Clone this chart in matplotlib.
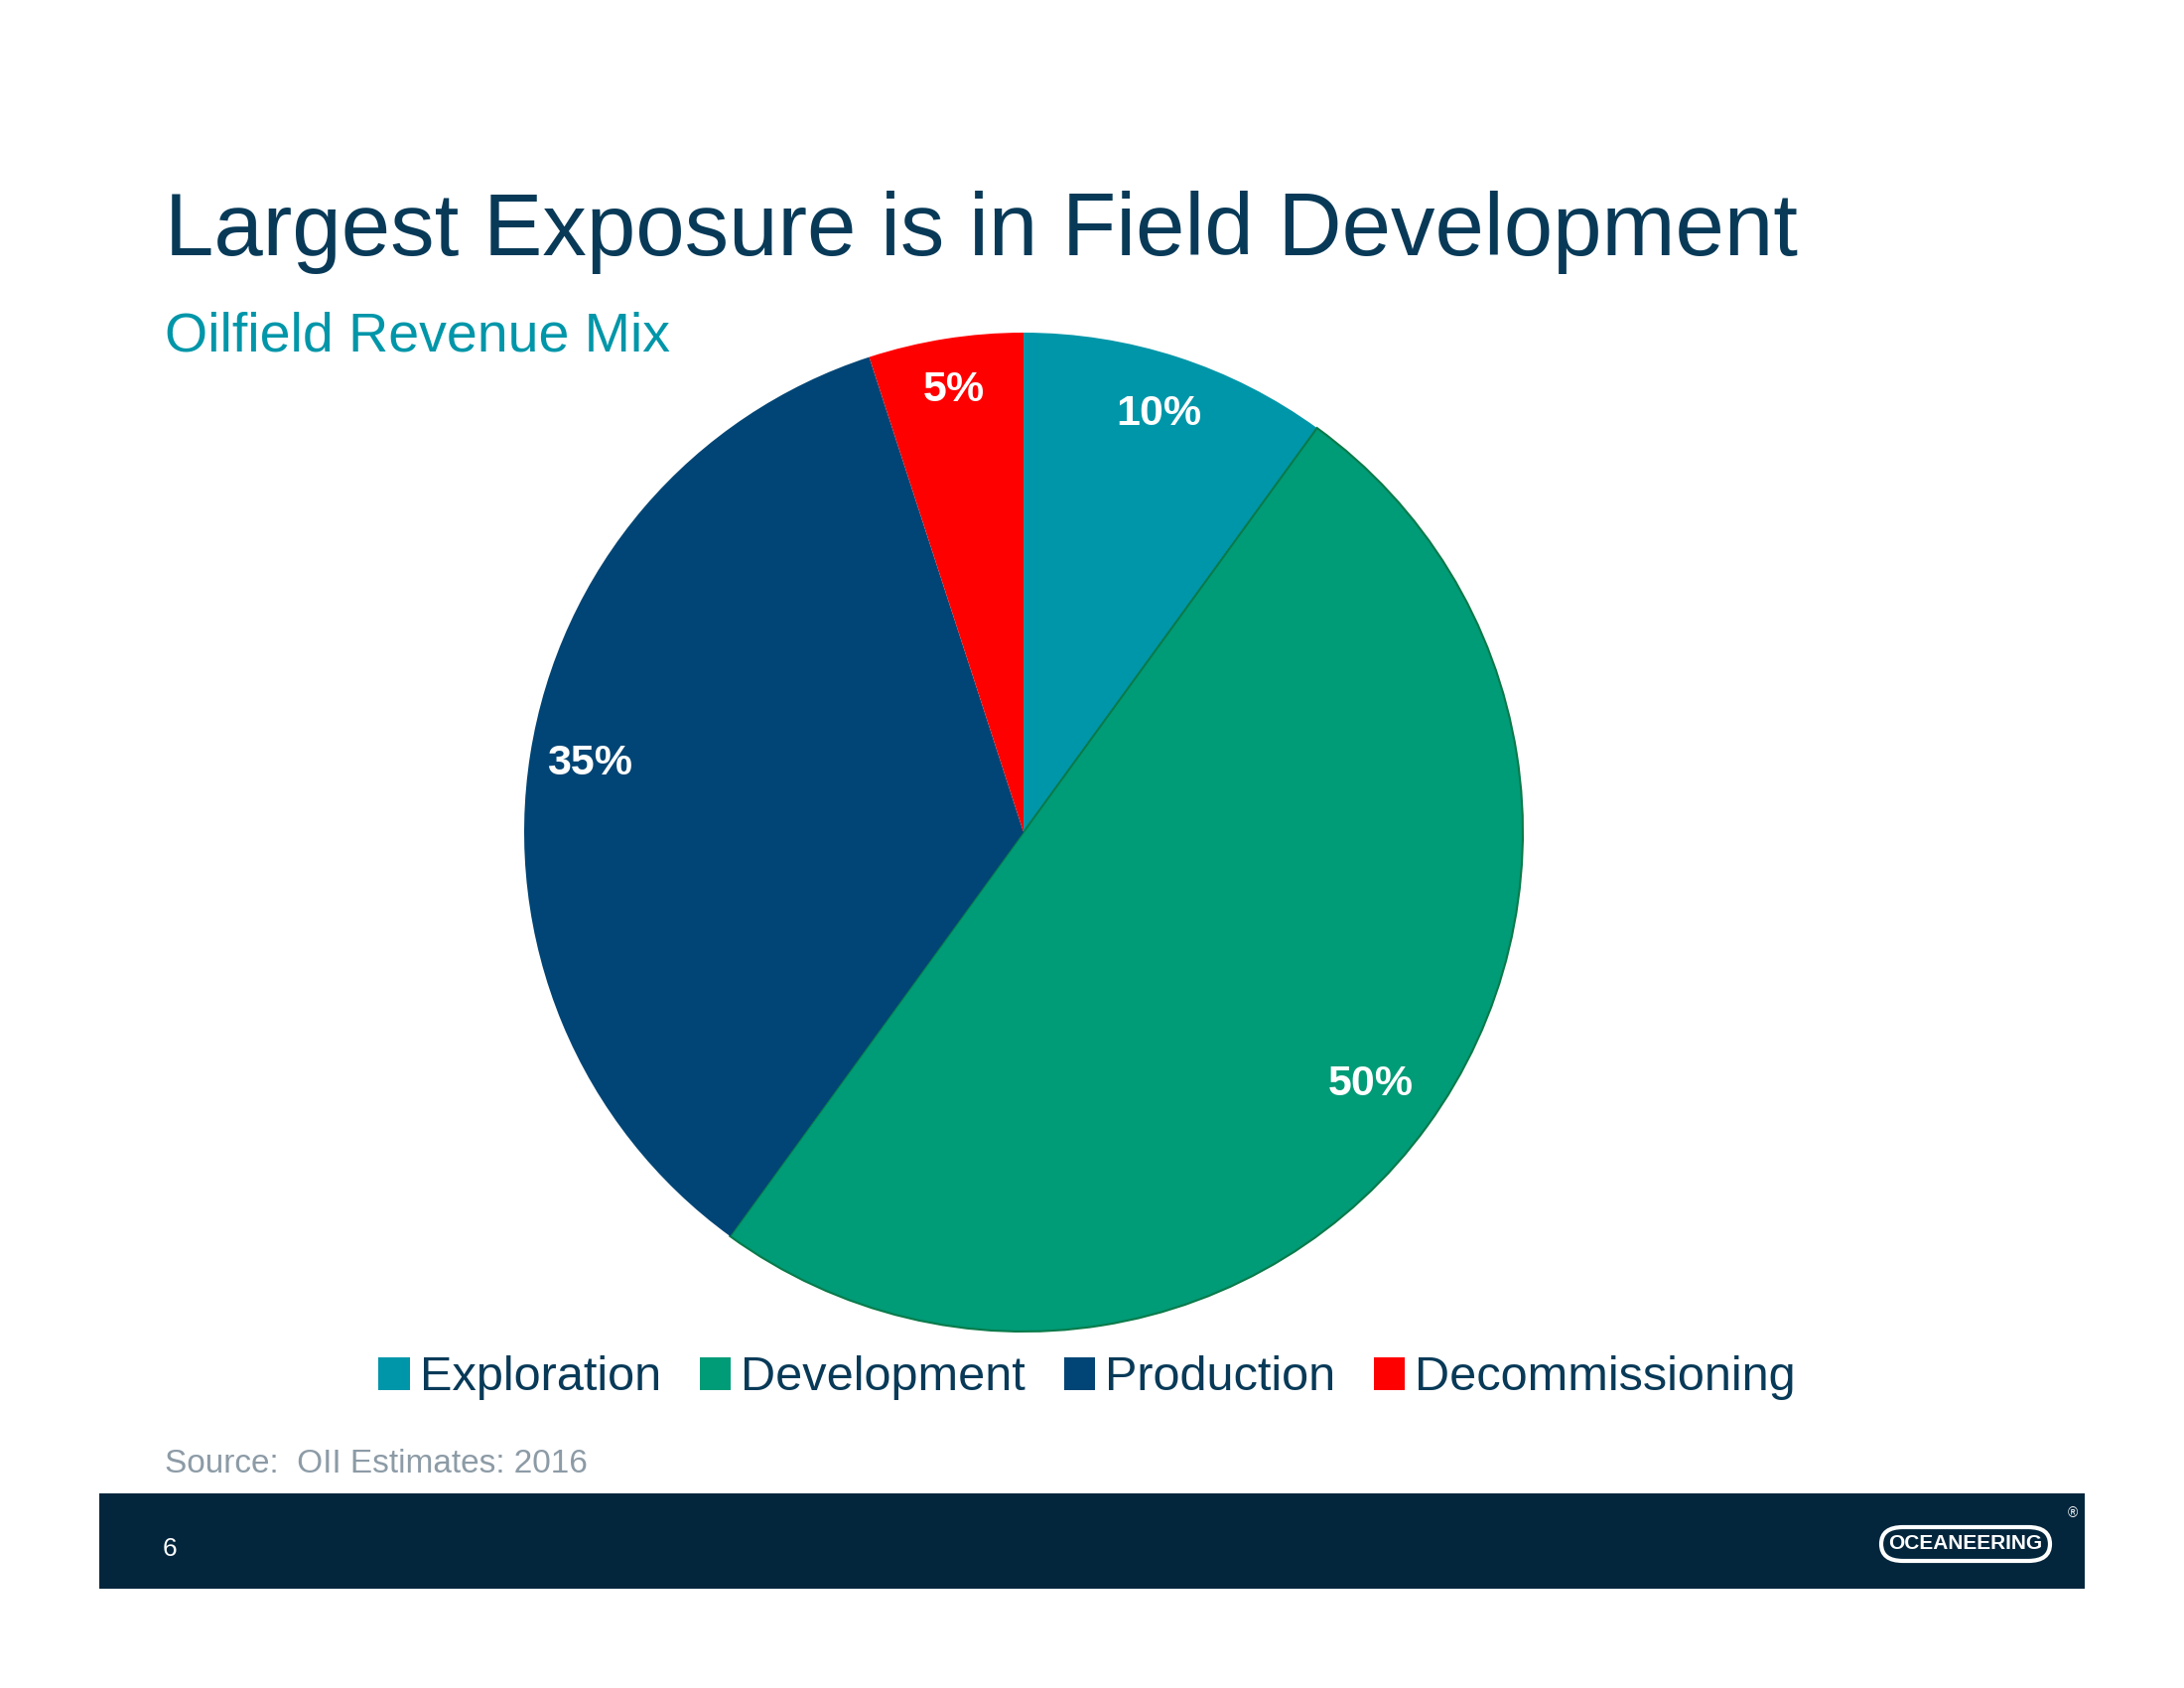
import numpy as np
import matplotlib.pyplot as plt
from matplotlib.patches import Rectangle, FancyBboxPatch, Patch

# data
segments = ['Exploration', 'Development', 'Production', 'Decommissioning']
shares = [10, 50, 35, 5]
colors = ['#0096a9', '#009b77', '#004575', '#ff0000']

title = 'Largest Exposure is in Field Development'
subtitle = 'Oilfield Revenue Mix'
source = 'Source:  OII Estimates: 2016'

navy = '#083a58'
plt.rcParams['font.family'] = ['Liberation Sans', 'DejaVu Sans']

fig = plt.figure(figsize=(22, 17), dpi=100)
W, H = 2200, 1700

# headings
fig.text(166 / W, 1 - 257 / H, title, fontsize=64, color=navy, va='baseline')
fig.text(166 / W, 1 - 354 / H, subtitle, fontsize=40, color='#0096a9', va='baseline')

# pie
cx, cy, r = 1031, 838, 503
ax = fig.add_axes([(cx - r) / W, (H - cy - r) / H, 2 * r / W, 2 * r / H])
wedges, texts, autotexts = ax.pie(
    shares, colors=colors, startangle=90, counterclock=False,
    autopct='%d%%', pctdistance=0.87,
    textprops=dict(color='white', fontsize=31, fontweight='bold'))
for w in wedges:
    w.set_edgecolor('none')
wedges[1].set_edgecolor('#0a7a4a')
wedges[1].set_linewidth(1.5)

# nudge the percent labels a bit outward like the original
label_dist = [0.88, 0.86, 0.88, 0.895]
for w, t, d in zip(wedges, autotexts, label_dist):
    ang = np.deg2rad((w.theta1 + w.theta2) / 2)
    t.set_position((d * np.cos(ang), d * np.sin(ang)))

ax.set_xlim(-1, 1)
ax.set_ylim(-1, 1)
ax.set_aspect('equal')

# legend
handles = [Patch(facecolor=c, edgecolor='none') for c in colors]
leg = fig.legend(handles, segments, loc='center', ncol=4,
                 bbox_to_anchor=(1095 / W, 1 - 1388 / H), frameon=False,
                 fontsize=35, handlelength=0.65, handleheight=0.65,
                 handletextpad=0.2, columnspacing=0.8, labelcolor=navy)

fig.text(166 / W, 1 - 1483 / H, source, fontsize=24, color='#8c9ba6', va='baseline')

# footer band
fig.patches.append(Rectangle((100 / W, 1 - 1600 / H), 2000 / W, 96 / H,
                             transform=fig.transFigure, facecolor='#03263d',
                             edgecolor='none'))
fig.text(171 / W, 1 - 1560 / H, '6', fontsize=19, color='white', va='center', ha='center')

# logo
fig.patches.append(FancyBboxPatch((1895 / W, 1 - 1572 / H), 170 / W, 34 / H,
                                  boxstyle='round,pad=0,rounding_size=0.01',
                                  transform=fig.transFigure, facecolor='none',
                                  edgecolor='white', linewidth=3))
fig.text(1980 / W, 1 - 1555 / H, 'OCEANEERING', fontsize=15, fontweight='bold',
         color='white', ha='center', va='center')
fig.text(2088 / W, 1 - 1524 / H, '®', fontsize=10, color='white', ha='center', va='center')

fig.savefig('out.png', dpi=100, facecolor='white')
